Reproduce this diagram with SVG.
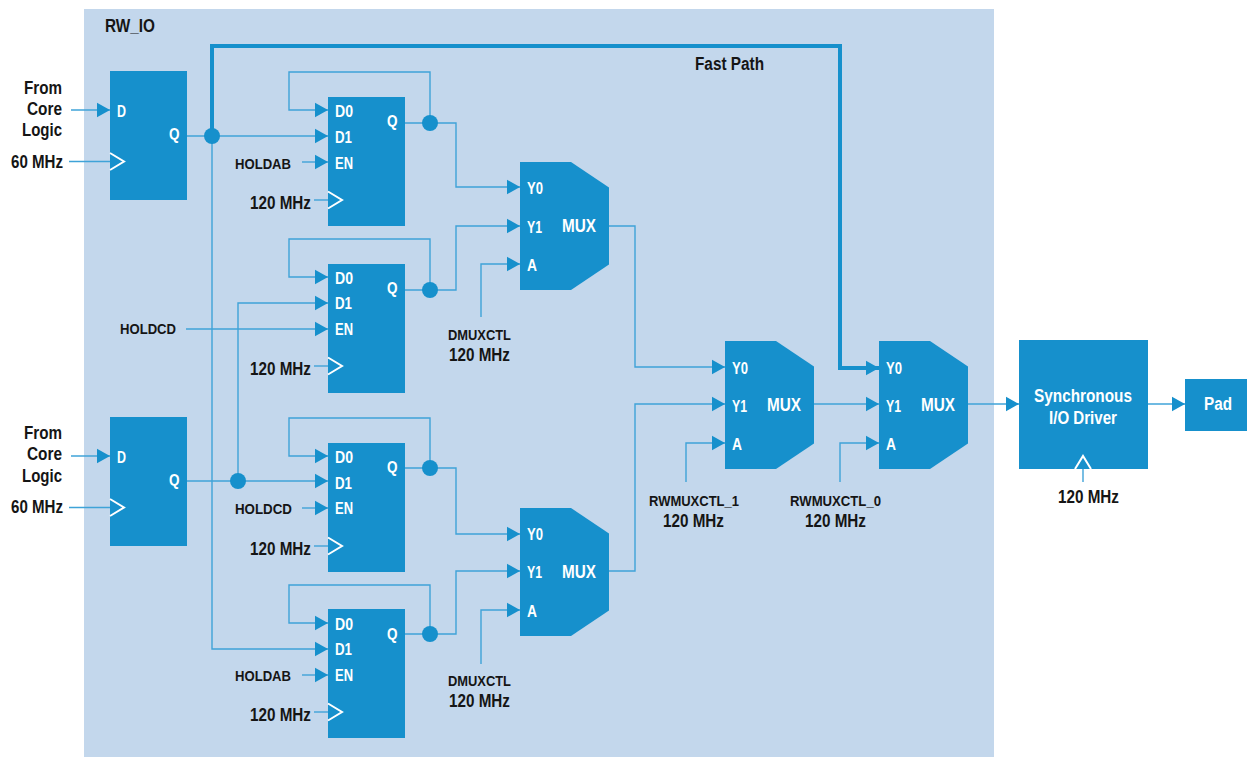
<svg xmlns="http://www.w3.org/2000/svg" width="1247" height="757" viewBox="0 0 1247 757">
<style>
text{font-family:"Liberation Sans",Arial,sans-serif;font-weight:700}
.k{fill:#151515;font-size:17.5px}
.s{font-size:15.5px}
.w{fill:#fff;font-size:16px}
.m{fill:#fff;font-size:18px}
.l{fill:#fff;font-size:18px}
.b{fill:#1690cc}
.c{fill:none;stroke:#3fa3d8;stroke-width:1.4}
.a{marker-end:url(#ah)}
.f{fill:none;stroke:#1690cc;stroke-width:4;stroke-linejoin:miter}
.ck{fill:none;stroke:#fff;stroke-width:2}
.d{fill:#1690cc}
</style>
<defs>
<marker id="ah" markerUnits="userSpaceOnUse" markerWidth="14" markerHeight="16" refX="13" refY="8" orient="auto"><path d="M0 0.800L13 8L0 15.200Z" fill="#1690cc"/></marker>
<polygon id="mx" points="0,0 51,0 89,25.500 89,102.500 51,128 0,128" class="b"/>
<path id="ckr" d="M0 -8.500L14 0L0 8.500" class="ck"/>
</defs>
<rect id="rw-io" x="84" y="9" width="910" height="748" fill="#c3d7ec"/>
<text class="k" x="105" y="32" textLength="50" lengthAdjust="spacingAndGlyphs">RW_IO</text>
<text class="k" x="695" y="70" textLength="69" lengthAdjust="spacingAndGlyphs">Fast Path</text>

<g id="ff-a"><rect class="b" x="110" y="71" width="77" height="129"/><text class="w" x="117" y="116.500" textLength="9" lengthAdjust="spacingAndGlyphs">D</text><text class="w" x="169" y="140" textLength="10.500" lengthAdjust="spacingAndGlyphs">Q</text></g>
<g id="ff-b"><rect class="b" x="110" y="417" width="77" height="129"/><text class="w" x="117" y="462.500" textLength="9" lengthAdjust="spacingAndGlyphs">D</text><text class="w" x="169" y="486" textLength="10.500" lengthAdjust="spacingAndGlyphs">Q</text></g>
<g id="ff-1"><rect class="b" x="328" y="97" width="77" height="129"/><text class="w" x="335" y="116.500" textLength="18" lengthAdjust="spacingAndGlyphs">D0</text><text class="w" x="335" y="142.500" textLength="17" lengthAdjust="spacingAndGlyphs">D1</text><text class="w" x="335" y="168.500" textLength="18" lengthAdjust="spacingAndGlyphs">EN</text><text class="w" x="387" y="127" textLength="10.500" lengthAdjust="spacingAndGlyphs">Q</text></g>
<g id="ff-2"><rect class="b" x="328" y="264" width="77" height="129"/><text class="w" x="335" y="283.500" textLength="18" lengthAdjust="spacingAndGlyphs">D0</text><text class="w" x="335" y="308.500" textLength="17" lengthAdjust="spacingAndGlyphs">D1</text><text class="w" x="335" y="334.500" textLength="18" lengthAdjust="spacingAndGlyphs">EN</text><text class="w" x="387" y="293.500" textLength="10.500" lengthAdjust="spacingAndGlyphs">Q</text></g>
<g id="ff-3"><rect class="b" x="328" y="443" width="77" height="129"/><text class="w" x="335" y="462.500" textLength="18" lengthAdjust="spacingAndGlyphs">D0</text><text class="w" x="335" y="488.500" textLength="17" lengthAdjust="spacingAndGlyphs">D1</text><text class="w" x="335" y="513.500" textLength="18" lengthAdjust="spacingAndGlyphs">EN</text><text class="w" x="387" y="472.500" textLength="10.500" lengthAdjust="spacingAndGlyphs">Q</text></g>
<g id="ff-4"><rect class="b" x="328" y="609" width="77" height="129"/><text class="w" x="335" y="629.500" textLength="18" lengthAdjust="spacingAndGlyphs">D0</text><text class="w" x="335" y="654.500" textLength="17" lengthAdjust="spacingAndGlyphs">D1</text><text class="w" x="335" y="680.500" textLength="18" lengthAdjust="spacingAndGlyphs">EN</text><text class="w" x="387" y="639.500" textLength="10.500" lengthAdjust="spacingAndGlyphs">Q</text></g>

<g id="mux-1"><use href="#mx" x="520" y="162"/><text class="w" x="527" y="193.500" textLength="16" lengthAdjust="spacingAndGlyphs">Y0</text><text class="w" x="527" y="232.500" textLength="15" lengthAdjust="spacingAndGlyphs">Y1</text><text class="w" x="527" y="270.500" textLength="10" lengthAdjust="spacingAndGlyphs">A</text><text class="m" x="562" y="232" textLength="34" lengthAdjust="spacingAndGlyphs">MUX</text></g>
<g id="mux-2"><use href="#mx" x="520" y="508"/><text class="w" x="527" y="539.500" textLength="16" lengthAdjust="spacingAndGlyphs">Y0</text><text class="w" x="527" y="577.500" textLength="15" lengthAdjust="spacingAndGlyphs">Y1</text><text class="w" x="527" y="616.500" textLength="10" lengthAdjust="spacingAndGlyphs">A</text><text class="m" x="562" y="578" textLength="34" lengthAdjust="spacingAndGlyphs">MUX</text></g>
<g id="mux-3"><use href="#mx" x="725" y="341"/><text class="w" x="732" y="373.500" textLength="16" lengthAdjust="spacingAndGlyphs">Y0</text><text class="w" x="732" y="411.500" textLength="15" lengthAdjust="spacingAndGlyphs">Y1</text><text class="w" x="732" y="449.500" textLength="10" lengthAdjust="spacingAndGlyphs">A</text><text class="m" x="767" y="411" textLength="34" lengthAdjust="spacingAndGlyphs">MUX</text></g>
<g id="mux-4"><use href="#mx" x="879" y="341"/><text class="w" x="886" y="373.500" textLength="16" lengthAdjust="spacingAndGlyphs">Y0</text><text class="w" x="886" y="411.500" textLength="15" lengthAdjust="spacingAndGlyphs">Y1</text><text class="w" x="886" y="449.500" textLength="10" lengthAdjust="spacingAndGlyphs">A</text><text class="m" x="921" y="411" textLength="34" lengthAdjust="spacingAndGlyphs">MUX</text></g>

<g id="driver"><rect class="b" x="1019" y="340" width="129" height="129"/><text class="l" x="1034" y="402" textLength="98" lengthAdjust="spacingAndGlyphs">Synchronous</text><text class="l" x="1049" y="424" textLength="68" lengthAdjust="spacingAndGlyphs">I/O Driver</text></g>
<g id="pad"><rect class="b" x="1185" y="379" width="62" height="52"/><text class="l" x="1204" y="410" textLength="28" lengthAdjust="spacingAndGlyphs">Pad</text></g>

<g id="connectors">
<path class="c a" d="M71 110H110"/><path class="c" d="M69 161.500H110"/><path class="c a" d="M71 456H110"/><path class="c" d="M69 507.500H110"/>
<path class="c a" d="M187 136H328"/><path class="c a" d="M212 136V649H328"/>
<path class="f a" d="M212 136V46H840V368H879"/>
<path class="c a" d="M430 123V72H289V110H328"/><path class="c a" d="M405 123H456V187H520"/>
<path class="c a" d="M302 162H328"/><path class="c" d="M314 200H328"/>
<path class="c a" d="M430 290V239H289V277H328"/><path class="c a" d="M405 290H456V226H520"/>
<path class="c a" d="M238 481V303H328"/><path class="c a" d="M186 329H328"/><path class="c" d="M314 366H328"/>
<path class="c a" d="M481 317V264H520"/><path class="c a" d="M609 226H635V367H725"/>
<path class="c a" d="M187 481H328"/>
<path class="c a" d="M430 468V418H289V456H328"/><path class="c a" d="M405 468H456V534H520"/>
<path class="c a" d="M302 508H328"/><path class="c" d="M314 546H328"/>
<path class="c a" d="M430 634V585H289V623H328"/><path class="c a" d="M405 634H456V571H520"/>
<path class="c a" d="M302 675H328"/><path class="c" d="M314 712H328"/>
<path class="c a" d="M481 664V610H520"/><path class="c a" d="M609 571H635V404H725"/>
<path class="c a" d="M686 482V443H725"/><path class="c a" d="M814 404H879"/>
<path class="c a" d="M840 482V443H879"/><path class="c a" d="M968 404H1019"/><path class="c a" d="M1148 404H1185"/>
<path class="c" d="M1083 482V469"/>
<circle class="d" cx="212" cy="136" r="8"/><circle class="d" cx="430" cy="123" r="8"/><circle class="d" cx="430" cy="290" r="8"/><circle class="d" cx="238" cy="481" r="8"/><circle class="d" cx="430" cy="468" r="8"/><circle class="d" cx="430" cy="634" r="8"/>
<use href="#ckr" x="110" y="161.500"/><use href="#ckr" x="110" y="507.500"/><use href="#ckr" x="328" y="200"/><use href="#ckr" x="328" y="366"/><use href="#ckr" x="328" y="546"/><use href="#ckr" x="328" y="712"/>
<path class="ck" d="M1075 469L1083 456L1091 469"/>
</g>

<g id="labels">
<text class="k" x="24" y="94" textLength="38" lengthAdjust="spacingAndGlyphs">From</text><text class="k" x="27" y="115" textLength="35" lengthAdjust="spacingAndGlyphs">Core</text><text class="k" x="22" y="136" textLength="40" lengthAdjust="spacingAndGlyphs">Logic</text>
<text class="k" x="24" y="439" textLength="38" lengthAdjust="spacingAndGlyphs">From</text><text class="k" x="27" y="460" textLength="35" lengthAdjust="spacingAndGlyphs">Core</text><text class="k" x="22" y="482" textLength="40" lengthAdjust="spacingAndGlyphs">Logic</text>
<text class="k" x="11" y="168" textLength="52" lengthAdjust="spacingAndGlyphs">60 MHz</text><text class="k" x="11" y="513" textLength="52" lengthAdjust="spacingAndGlyphs">60 MHz</text>
<text class="k s" x="235" y="168.500" textLength="56" lengthAdjust="spacingAndGlyphs">HOLDAB</text><text class="k s" x="120" y="334" textLength="56" lengthAdjust="spacingAndGlyphs">HOLDCD</text><text class="k s" x="235" y="514" textLength="57" lengthAdjust="spacingAndGlyphs">HOLDCD</text><text class="k s" x="235" y="681" textLength="56" lengthAdjust="spacingAndGlyphs">HOLDAB</text>
<text class="k" x="250" y="209" textLength="61" lengthAdjust="spacingAndGlyphs">120 MHz</text><text class="k" x="250" y="375" textLength="61" lengthAdjust="spacingAndGlyphs">120 MHz</text><text class="k" x="250" y="555" textLength="61" lengthAdjust="spacingAndGlyphs">120 MHz</text><text class="k" x="250" y="721" textLength="61" lengthAdjust="spacingAndGlyphs">120 MHz</text>
<text class="k s" x="448" y="340" textLength="63" lengthAdjust="spacingAndGlyphs">DMUXCTL</text><text class="k" x="449" y="361" textLength="61" lengthAdjust="spacingAndGlyphs">120 MHz</text>
<text class="k s" x="448" y="686" textLength="63" lengthAdjust="spacingAndGlyphs">DMUXCTL</text><text class="k" x="449" y="707" textLength="61" lengthAdjust="spacingAndGlyphs">120 MHz</text>
<text class="k s" x="649" y="506" textLength="90" lengthAdjust="spacingAndGlyphs">RWMUXCTL_1</text><text class="k" x="663" y="527" textLength="61" lengthAdjust="spacingAndGlyphs">120 MHz</text>
<text class="k s" x="790" y="506" textLength="91" lengthAdjust="spacingAndGlyphs">RWMUXCTL_0</text><text class="k" x="805" y="527" textLength="61" lengthAdjust="spacingAndGlyphs">120 MHz</text>
<text class="k" x="1058" y="503" textLength="61" lengthAdjust="spacingAndGlyphs">120 MHz</text>
</g>
</svg>
